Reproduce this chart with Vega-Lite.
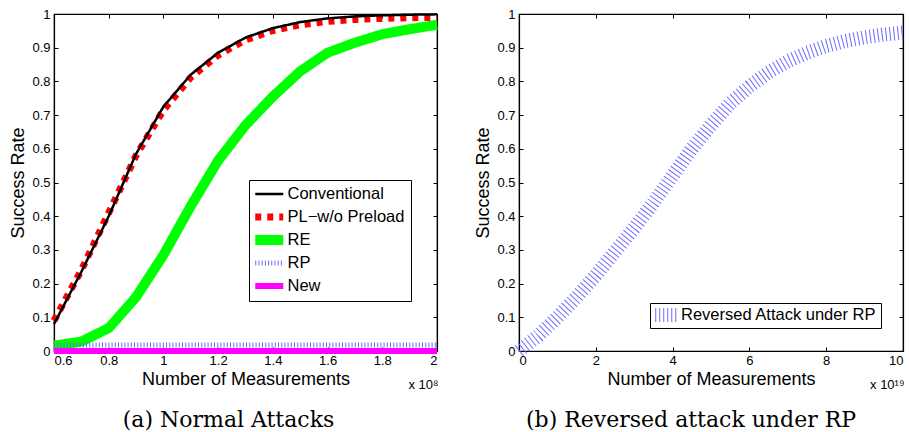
{
  "$schema": "https://vega.github.io/schema/vega-lite/v6.json",
  "background": "white",
  "padding": {"left": 9, "top": 3, "right": 5, "bottom": 0},
  "config": {
    "view": {"stroke": "black", "strokeWidth": 1.2},
    "axis": {
      "grid": false,
      "domainColor": "#000",
      "domainWidth": 1.2,
      "tickColor": "#000",
      "tickWidth": 1,
      "tickSize": -4,
      "labelColor": "#000",
      "titleColor": "#000",
      "labelFont": "Liberation Sans",
      "titleFont": "Liberation Sans",
      "labelFontSize": 13,
      "titleFontSize": 18,
      "titleFontWeight": "normal",
      "labelPadding": 7
    },
    "legend": {
      "orient": "none",
      "title": null,
      "strokeColor": "#000",
      "fillColor": "white",
      "labelFont": "Liberation Sans",
      "labelFontSize": 16.5,
      "labelColor": "#000",
      "labelLimit": 400,
      "clipHeight": 16
    },
    "title": {"font": "DejaVu Serif", "fontSize": 22, "fontWeight": "normal", "color": "#000", "orient": "bottom", "offset": 19}
  },
  "datasets": {
    "normal": [
      {"series": "RE", "x": 0.6, "y": 0.016}, {"series": "RE", "x": 0.7, "y": 0.028}, {"series": "RE", "x": 0.8, "y": 0.068}, {"series": "RE", "x": 0.9, "y": 0.16}, {"series": "RE", "x": 1.0, "y": 0.285}, {"series": "RE", "x": 1.1, "y": 0.43}, {"series": "RE", "x": 1.2, "y": 0.565}, {"series": "RE", "x": 1.3, "y": 0.67}, {"series": "RE", "x": 1.4, "y": 0.755}, {"series": "RE", "x": 1.5, "y": 0.83}, {"series": "RE", "x": 1.6, "y": 0.885}, {"series": "RE", "x": 1.7, "y": 0.915}, {"series": "RE", "x": 1.8, "y": 0.94}, {"series": "RE", "x": 1.9, "y": 0.955}, {"series": "RE", "x": 2.0, "y": 0.968},
      {"series": "PL−w/o Preload", "x": 0.6, "y": 0.09}, {"series": "PL−w/o Preload", "x": 0.7, "y": 0.24}, {"series": "PL−w/o Preload", "x": 0.8, "y": 0.41}, {"series": "PL−w/o Preload", "x": 0.9, "y": 0.58}, {"series": "PL−w/o Preload", "x": 1.0, "y": 0.715}, {"series": "PL−w/o Preload", "x": 1.1, "y": 0.812}, {"series": "PL−w/o Preload", "x": 1.2, "y": 0.878}, {"series": "PL−w/o Preload", "x": 1.3, "y": 0.923}, {"series": "PL−w/o Preload", "x": 1.4, "y": 0.951}, {"series": "PL−w/o Preload", "x": 1.5, "y": 0.968}, {"series": "PL−w/o Preload", "x": 1.6, "y": 0.978}, {"series": "PL−w/o Preload", "x": 1.7, "y": 0.984}, {"series": "PL−w/o Preload", "x": 1.8, "y": 0.987}, {"series": "PL−w/o Preload", "x": 1.9, "y": 0.989}, {"series": "PL−w/o Preload", "x": 2.0, "y": 0.99},
      {"series": "Conventional", "x": 0.6, "y": 0.08}, {"series": "Conventional", "x": 0.7, "y": 0.235}, {"series": "Conventional", "x": 0.8, "y": 0.4}, {"series": "Conventional", "x": 0.9, "y": 0.585}, {"series": "Conventional", "x": 1.0, "y": 0.725}, {"series": "Conventional", "x": 1.1, "y": 0.82}, {"series": "Conventional", "x": 1.2, "y": 0.885}, {"series": "Conventional", "x": 1.3, "y": 0.93}, {"series": "Conventional", "x": 1.4, "y": 0.958}, {"series": "Conventional", "x": 1.5, "y": 0.976}, {"series": "Conventional", "x": 1.6, "y": 0.987}, {"series": "Conventional", "x": 1.7, "y": 0.993}, {"series": "Conventional", "x": 1.8, "y": 0.996}, {"series": "Conventional", "x": 1.9, "y": 0.998}, {"series": "Conventional", "x": 2.0, "y": 0.999},
      {"series": "RP", "x": 0.6, "y": 0.018}, {"series": "RP", "x": 2.0, "y": 0.018},
      {"series": "New", "x": 0.6, "y": 0.0}, {"series": "New", "x": 2.0, "y": 0.0}
    ],
    "reversed": [
      {"series": "Reversed Attack under RP", "x": 0, "y": 0}, {"series": "Reversed Attack under RP", "x": 0.5, "y": 0.045}, {"series": "Reversed Attack under RP", "x": 1, "y": 0.1}, {"series": "Reversed Attack under RP", "x": 1.5, "y": 0.16}, {"series": "Reversed Attack under RP", "x": 2, "y": 0.225}, {"series": "Reversed Attack under RP", "x": 2.5, "y": 0.295}, {"series": "Reversed Attack under RP", "x": 3, "y": 0.365}, {"series": "Reversed Attack under RP", "x": 3.5, "y": 0.44}, {"series": "Reversed Attack under RP", "x": 4, "y": 0.52}, {"series": "Reversed Attack under RP", "x": 4.5, "y": 0.6}, {"series": "Reversed Attack under RP", "x": 5, "y": 0.67}, {"series": "Reversed Attack under RP", "x": 5.5, "y": 0.735}, {"series": "Reversed Attack under RP", "x": 6, "y": 0.785}, {"series": "Reversed Attack under RP", "x": 6.5, "y": 0.827}, {"series": "Reversed Attack under RP", "x": 7, "y": 0.86}, {"series": "Reversed Attack under RP", "x": 7.5, "y": 0.885}, {"series": "Reversed Attack under RP", "x": 8, "y": 0.905}, {"series": "Reversed Attack under RP", "x": 8.5, "y": 0.92}, {"series": "Reversed Attack under RP", "x": 9, "y": 0.931}, {"series": "Reversed Attack under RP", "x": 9.5, "y": 0.939}, {"series": "Reversed Attack under RP", "x": 10, "y": 0.945}
    ]
  },
  "spacing": 31,
  "resolve": {"scale": {"color": "independent", "strokeDash": "independent", "strokeWidth": "independent"}, "legend": {"color": "independent", "strokeDash": "independent", "strokeWidth": "independent"}},
  "hconcat": [
    {
      "width": 383,
      "height": 337,
      "title": {"text": "(a) Normal Attacks", "dx": -17},
      "data": {"name": "normal"},
      "layer": [
        {
          "mark": {"type": "line", "strokeCap": "butt", "strokeJoin": "round", "clip": false},
          "encoding": {
            "x": {"field": "x", "type": "quantitative", "scale": {"domain": [0.6, 2], "nice": false, "zero": false},
                  "axis": {"title": "Number of Measurements", "values": [0.6, 0.8, 1, 1.2, 1.4, 1.6, 1.8, 2], "format": "~g", "titlePadding": 3}},
            "y": {"field": "y", "type": "quantitative", "scale": {"domain": [0, 1], "nice": false},
                  "axis": {"title": "Success Rate", "values": [0, 0.1, 0.2, 0.3, 0.4, 0.5, 0.6, 0.7, 0.8, 0.9, 1], "format": "~g", "labelPadding": 8, "titlePadding": 4}},
            "color": {"field": "series", "type": "nominal",
                      "scale": {"domain": ["Conventional", "PL−w/o Preload", "RE", "RP", "New"], "range": ["#000000", "#ff0000", "#00ff00", "#6b6bff", "#ff00ff"]},
                      "legend": {"legendX": 195, "legendY": 166, "symbolType": "M-28,0H28", "symbolSize": 1, "symbolOffset": 6, "labelOffset": 10, "padding": 6, "rowPadding": 6}},
            "strokeDash": {"field": "series", "type": "nominal",
                      "scale": {"domain": ["Conventional", "PL−w/o Preload", "RE", "RP", "New"], "range": [[1, 0], [6, 6], [1, 0], [1, 2.2], [1, 0]]},
                      "legend": {"legendX": 195, "legendY": 166, "symbolType": "M-28,0H28", "symbolSize": 1, "symbolOffset": 6, "labelOffset": 10, "padding": 6, "rowPadding": 6}},
            "strokeWidth": {"field": "series", "type": "nominal",
                      "scale": {"type": "ordinal", "domain": ["Conventional", "PL−w/o Preload", "RE", "RP", "New"], "range": [2.5, 7, 10, 5, 6]},
                      "legend": {"legendX": 195, "legendY": 166, "symbolType": "M-28,0H28", "symbolSize": 1, "symbolOffset": 6, "labelOffset": 10, "padding": 6, "rowPadding": 6}}
          }
        },
        {
          "mark": {"type": "line", "opacity": 0},
          "encoding": {
            "x": {"field": "x", "type": "quantitative", "axis": {"orient": "top", "labels": false, "labelPadding": 4, "title": null, "values": [0.6, 0.8, 1, 1.2, 1.4, 1.6, 1.8, 2]}},
            "y": {"field": "y", "type": "quantitative", "axis": {"orient": "right", "labels": false, "labelPadding": 4, "values": [0, 0.1, 0.2, 0.3, 0.4, 0.5, 0.6, 0.7, 0.8, 0.9, 1],
                  "title": "x 10⁸", "titleAngle": 0, "titleAlign": "right", "titleBaseline": "alphabetic", "titleX": 1, "titleY": 374, "titleFontSize": 13}},
            "detail": {"field": "series", "type": "nominal"}
          }
        }
      ],
      "resolve": {"axis": {"x": "independent", "y": "independent"}}
    },
    {
      "width": 384,
      "height": 337,
      "title": {"text": "(b) Reversed attack under RP", "dx": -20},
      "data": {"name": "reversed"},
      "layer": [
        {
          "mark": {"type": "line", "strokeCap": "butt", "strokeWidth": 14, "clip": false},
          "encoding": {
            "x": {"field": "x", "type": "quantitative", "scale": {"domain": [0, 10], "nice": false},
                  "axis": {"title": "Number of Measurements", "values": [0, 2, 4, 6, 8, 10], "format": "d", "titlePadding": 3}},
            "y": {"field": "y", "type": "quantitative", "scale": {"domain": [0, 1], "nice": false},
                  "axis": {"title": "Success Rate", "values": [0, 0.1, 0.2, 0.3, 0.4, 0.5, 0.6, 0.7, 0.8, 0.9, 1], "format": "~g", "labelPadding": 8, "titlePadding": 4}},
            "color": {"field": "series", "type": "nominal", "scale": {"domain": ["Reversed Attack under RP"], "range": ["#6b6bff"]},
                      "legend": {"legendX": 131, "legendY": 289, "symbolType": "M-23,0H23", "symbolSize": 1, "symbolStrokeWidth": 14, "symbolDash": [1, 3], "symbolOffset": 4.5, "labelOffset": 6, "padding": 4, "labelFontSize": 16.5}},
            "strokeDash": {"value": [1, 3]}
          }
        },
        {
          "mark": {"type": "line", "opacity": 0},
          "encoding": {
            "x": {"field": "x", "type": "quantitative", "axis": {"orient": "top", "labels": false, "labelPadding": 4, "title": null, "values": [0, 2, 4, 6, 8, 10]}},
            "y": {"field": "y", "type": "quantitative", "axis": {"orient": "right", "labels": false, "labelPadding": 4, "values": [0, 0.1, 0.2, 0.3, 0.4, 0.5, 0.6, 0.7, 0.8, 0.9, 1],
                  "title": "x 10¹⁹", "titleAngle": 0, "titleAlign": "right", "titleBaseline": "alphabetic", "titleX": 1, "titleY": 374, "titleFontSize": 13}}
          }
        }
      ],
      "resolve": {"axis": {"x": "independent", "y": "independent"}}
    }
  ]
}
